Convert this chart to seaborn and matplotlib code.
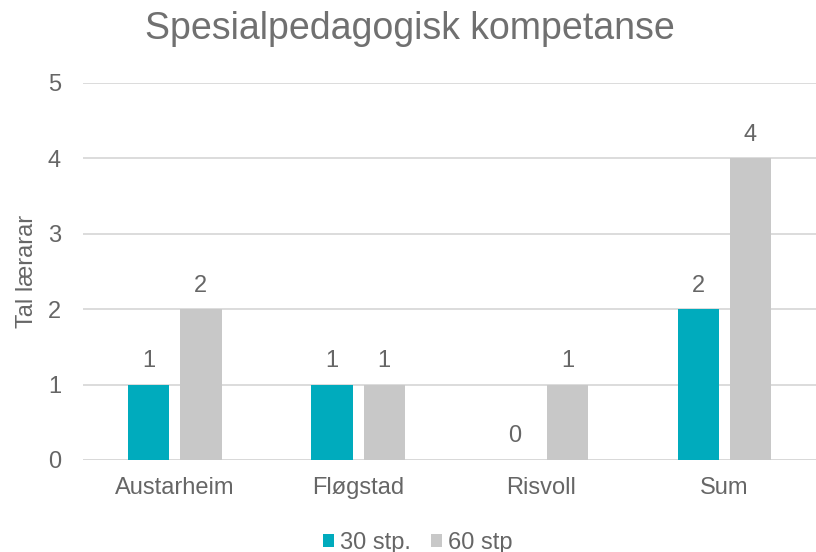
import matplotlib
matplotlib.use("Agg")
import matplotlib.pyplot as plt
import seaborn as sns
import pandas as pd

categories = ["Austarheim", "Fløgstad", "Risvoll", "Sum"]
series_names = ["30 stp.", "60 stp"]
values_30 = [1, 1, 0, 2]
values_60 = [2, 1, 1, 4]
yticks = [0, 1, 2, 3, 4, 5]

df = pd.DataFrame({
    "Skule": categories * 2,
    "Serie": [series_names[0]] * len(categories) + [series_names[1]] * len(categories),
    "Tal": values_30 + values_60,
})

sns.set_theme(style="white")
plt.rcParams["font.family"] = ["Liberation Sans", "DejaVu Sans"]

text_col = "#666666"
fig = plt.figure(figsize=(8.16, 5.52), dpi=100)
ax = fig.add_axes([0.102, 0.1667, 0.898, 0.683])

sns.barplot(data=df, x="Skule", y="Tal", hue="Serie", order=categories,
            hue_order=series_names, palette=["#00ABBD", "#C8C8C8"],
            width=0.57, gap=0.21, saturation=1, ax=ax, errorbar=None,
            linewidth=0, legend=True)

ax.set_ylim(0, 5)
ax.set_xlim(-0.5, 3.5)
ax.set_yticks(yticks)
ax.yaxis.grid(True, color="#D9D9D9", linewidth=1.3)
ax.set_axisbelow(True)
for s in ax.spines.values():
    s.set_visible(False)
ax.axhline(0, color="#D9D9D9", linewidth=1.3, zorder=0)

ax.tick_params(axis="both", length=0, labelsize=17, labelcolor=text_col)
ax.tick_params(axis="y", pad=16)
ax.tick_params(axis="x", pad=12)
ax.set_xlabel("")
ax.set_ylabel("Tal lærarar", fontsize=17, color=text_col)
ax.yaxis.set_label_coords(-0.062, 0.5)

for c in ax.containers:
    ax.bar_label(c, fmt="%d", padding=9, fontsize=17, color=text_col)

fig.text(0.502, 0.947, "Spesialpedagogisk kompetanse", ha="center", va="center",
         fontsize=27, color="#707070")

ax.legend(loc="center", bbox_to_anchor=(0.512, 0.017), bbox_transform=fig.transFigure,
          ncol=2, frameon=False, fontsize=17, labelcolor=text_col,
          handlelength=0.48, handleheight=0.48, handletextpad=0.25, columnspacing=0.85)

fig.savefig("out.png", dpi=100)
